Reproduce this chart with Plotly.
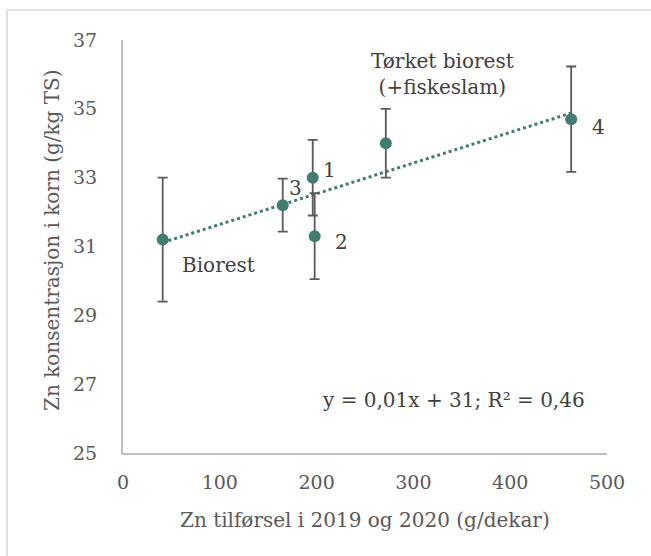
import numpy as np
import plotly.graph_objects as go

# Data
labels = ["Biorest", "3", "1", "2", "Tørket biorest", "4"]
zn_supply = [41, 165, 196, 198, 271.5, 463]          # g/dekar
zn_conc = [31.2, 32.2, 33.0, 31.3, 34.0, 34.7]       # g/kg TS
zn_err = [1.8, 0.77, 1.1, 1.25, 1.0, 1.53]

x_ticks = [0, 100, 200, 300, 400, 500]
y_ticks = [25, 27, 29, 31, 33, 35, 37]

TEAL = "#427B71"
GREY_TXT = "#595959"
DARK_TXT = "#404040"
FONT = "DejaVu Serif"

# Linear trendline fitted from the data
coef = np.polyfit(zn_supply, zn_conc, 1)
tx = np.array([min(zn_supply), max(zn_supply)])
ty = np.polyval(coef, tx)

fig = go.Figure()
fig.add_trace(go.Scatter(
    x=tx, y=ty, mode="lines",
    line=dict(color=TEAL, width=3, dash="dot"),
    hoverinfo="skip", showlegend=False))
fig.add_trace(go.Scatter(
    x=zn_supply, y=zn_conc, mode="markers",
    marker=dict(color=TEAL, size=12),
    error_y=dict(type="data", array=zn_err, visible=True,
                 color="#5a5a5a", thickness=1.8, width=5),
    text=labels, showlegend=False))

ann = [
    dict(x=330, y=36.0, text="Tørket biorest<br>(+fiskeslam)"),
    dict(x=99, y=30.46, text="Biorest"),
    dict(x=213, y=33.22, text="1"),
    dict(x=226, y=31.13, text="2"),
    dict(x=178.7, y=32.70, text="3"),
    dict(x=491.7, y=34.47, text="4"),
    dict(x=341, y=26.54, text="y = 0,01x + 31; R² = 0,46"),
]
for a in ann:
    fig.add_annotation(x=a["x"], y=a["y"], text=a["text"], showarrow=False,
                       xref="x", yref="y", xanchor="center", yanchor="middle",
                       font=dict(family=FONT, size=20, color=DARK_TXT))

# axis titles as annotations for precise placement
fig.add_annotation(xref="paper", yref="paper", x=(365 - 123) / 484, y=(453 - 520) / 413,
                   xanchor="center", yanchor="middle",
                   text="Zn tilførsel i 2019 og 2020 (g/dekar)", showarrow=False,
                   font=dict(family=FONT, size=20, color=GREY_TXT))
fig.add_annotation(xref="paper", yref="paper", x=(52 - 123) / 484, y=(453 - 240) / 413,
                   xanchor="center", yanchor="middle",
                   text="Zn konsentrasjon i korn (g/kg TS)", showarrow=False, textangle=-90,
                   font=dict(family=FONT, size=20, color=GREY_TXT))

# outer chart border
fig.add_shape(type="rect", xref="paper", yref="paper",
              x0=(7 - 123) / 484, x1=(720 - 123) / 484,
              y0=(453 - 620) / 413, y1=(453 - 10) / 413,
              line=dict(color="#d9d9d9", width=1.5), layer="below")

fig.update_xaxes(range=[0, 500], tickvals=x_ticks, showgrid=False, zeroline=False,
                 showline=True, linecolor="#bfbfbf", linewidth=2,
                 ticks="", ticklabelstandoff=11,
                 tickfont=dict(family=FONT, size=19, color=GREY_TXT))
fig.update_yaxes(range=[25, 37], tickvals=y_ticks, showgrid=False, zeroline=False,
                 showline=True, linecolor="#bfbfbf", linewidth=2,
                 ticks="", ticklabelstandoff=20,
                 tickfont=dict(family=FONT, size=19, color=GREY_TXT))

fig.update_layout(width=651, height=556,
                  margin=dict(l=123, r=44, t=40, b=103),
                  plot_bgcolor="white", paper_bgcolor="white",
                  showlegend=False)

fig.write_html("out.html", config={"displayModeBar": False},
               post_script="document.body.style.margin='0';")
